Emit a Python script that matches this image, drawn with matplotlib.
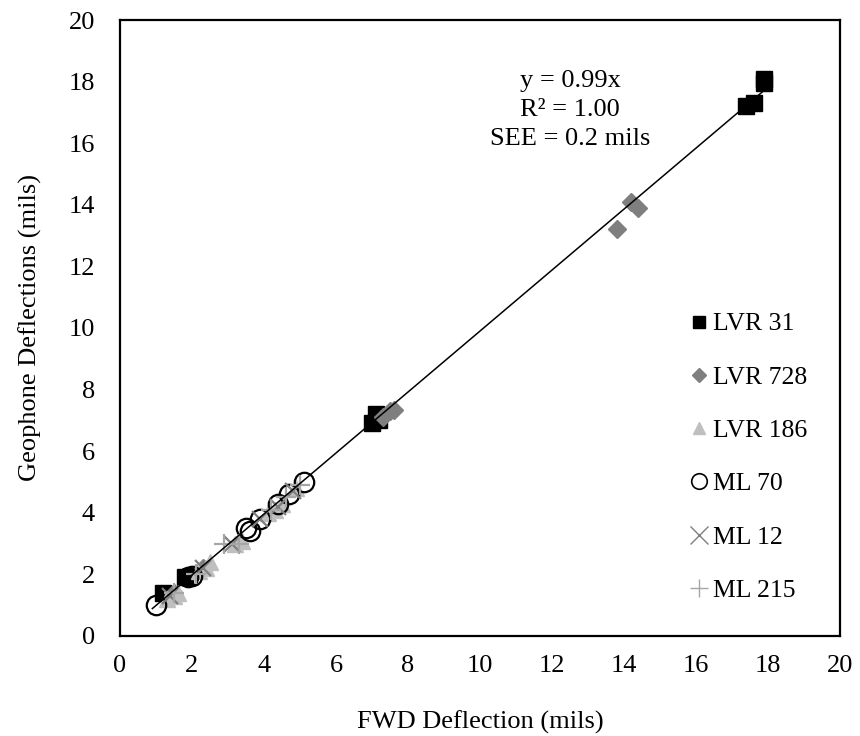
import matplotlib.pyplot as plt
import numpy as np

plt.rcParams['font.family'] = ['Liberation Serif', 'DejaVu Serif']

# FWD vs geophone deflections (mils) per test section
lvr31_x = [1.2, 1.8, 7.0, 7.1, 7.2, 17.4, 17.6, 17.9, 17.9]
lvr31_y = [1.4, 1.9, 6.9, 7.2, 7.0, 17.2, 17.3, 18.1, 17.95]
lvr728_x = [1.5, 2.3, 7.3, 7.5, 7.6, 13.8, 14.2, 14.4]
lvr728_y = [1.4, 2.2, 7.1, 7.3, 7.35, 13.2, 14.1, 13.9]
lvr186_x = [1.3, 1.5, 1.6, 2.2, 2.4, 2.5, 3.2, 3.4, 4.1, 4.3, 4.5, 4.9]
lvr186_y = [1.2, 1.3, 1.4, 2.1, 2.2, 2.4, 3.0, 3.1, 4.0, 4.1, 4.3, 4.8]
ml70_x = [1.0, 1.9, 2.0, 3.5, 3.6, 3.9, 4.4, 4.7, 5.1]
ml70_y = [1.0, 1.9, 1.95, 3.5, 3.4, 3.8, 4.3, 4.6, 5.0]
ml12_x = [1.4, 2.3, 3.1, 3.9, 4.4, 4.8]
ml12_y = [1.3, 2.2, 3.0, 3.8, 4.2, 4.7]
ml215_x = [1.5, 2.1, 2.9, 3.3, 4.2, 4.6, 5.0]
ml215_y = [1.4, 2.0, 3.0, 3.0, 4.1, 4.5, 4.9]

slope = 0.99
fit_x = [0.9, 18.0]

fig = plt.figure(figsize=(8.6, 7.36), dpi=100)
ax = fig.add_axes([0.1395, 0.1359, 0.8372, 0.8369])

ax.plot(lvr31_x, lvr31_y, 's', color='black', ms=11, label='LVR 31', zorder=3)
ax.plot(lvr728_x, lvr728_y, 'D', color='#7f7f7f', ms=9, mec='#7f7f7f', label='LVR 728', zorder=3)
ax.plot(lvr186_x, lvr186_y, '^', color='#bfbfbf', ms=11, label='LVR 186', zorder=3)
ax.plot(ml70_x, ml70_y, 'o', mfc='none', mec='black', mew=1.6, ms=14, label='ML 70', zorder=3)
ax.plot(ml12_x, ml12_y, 'x', color='#7f7f7f', ms=12, mew=1.6, label='ML 12', zorder=3)
ax.plot(ml215_x, ml215_y, '+', color='#a6a6a6', ms=15, mew=1.6, label='ML 215', zorder=3)

fx = np.array(fit_x)
ax.plot(fx, slope * fx, color='black', lw=1.1, zorder=4)

ax.text(12.5, 17.08, 'y = 0.99x\nR² = 1.00\nSEE = 0.2 mils', ha='center', va='center',
        fontsize=19, linespacing=1.4)

ax.set_xlim(0, 20)
ax.set_ylim(0, 20)
ax.set_xticks(range(0, 21, 2))
ax.set_yticks(range(0, 21, 2))
ax.tick_params(length=0, labelsize=19)
ax.tick_params(axis='y', pad=18)
ax.tick_params(axis='x', pad=14)
for s in ax.spines.values():
    s.set_linewidth(1.6)
ax.set_xlabel('FWD Deflection (mils)', fontsize=19)
ax.set_ylabel('Geophone Deflections (mils)', fontsize=19)
ax.xaxis.set_label_coords(0.5, -0.14)
ax.xaxis.label.set_va('center')
ax.yaxis.set_label_coords(-0.125, 0.5)
ax.yaxis.label.set_va('center')

leg = ax.legend(loc='upper left', bbox_to_anchor=(0.774, 0.546), frameon=False, fontsize=18.5,
                handlelength=0.7, handletextpad=0.2, labelspacing=1.18, borderpad=0,
                markerscale=0.8)
# thinner strokes for the outline / line-type markers in the key
leg.legend_handles[3].set_markeredgewidth(1.2)
for h in leg.legend_handles[4:]:
    h.set_markeredgewidth(1.0)
    h.set_markersize(13)

fig.savefig('out.png', dpi=100)
